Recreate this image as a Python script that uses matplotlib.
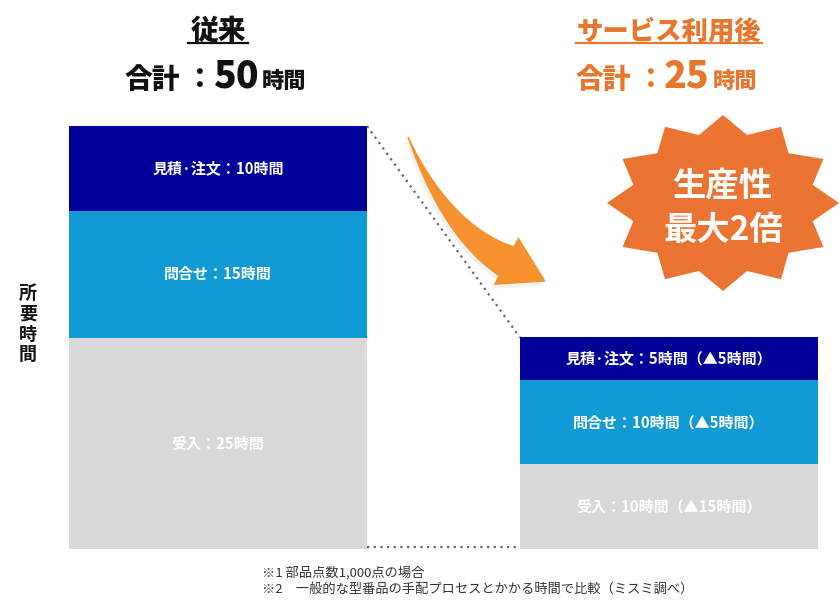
import numpy as np
import matplotlib
matplotlib.use("Agg")
from matplotlib import pyplot as plt
from matplotlib.patches import Polygon

plt.rcParams['font.family'] = ['Noto Sans CJK JP', 'DejaVu Sans']

# data
groups = ["従来", "サービス利用後"]
totals = [50, 25]
steps = ["受入", "問合せ", "見積·注文"]          # bottom -> top
hours_before = [25, 15, 10]
hours_after = [10, 10, 5]
saved = [15, 5, 5]
seg_colors = ["#D9D9D9", "#129AD4", "#000099"]

labels_before = [f"{s}：{h}時間" for s, h in zip(steps, hours_before)]
labels_after = [f"{s}：{h}時間（▲{d}時間）" for s, h, d in zip(steps, hours_after, saved)]

W, H = 840, 603
fig = plt.figure(figsize=(W / 100, H / 100), dpi=100)

# ---- bars ----
bar_w = 298 / 451
ax = fig.add_axes([69 / W, (H - 549) / H, 749 / W, 423 / H])
ax.set_xlim(-bar_w / 2, 1 + bar_w / 2)
ax.set_ylim(0, 50)
ax.axis("off")

bottom_b = 0
bottom_a = 0
for i in range(len(steps)):
    ax.bar(0, hours_before[i], bar_w, bottom=bottom_b, color=seg_colors[i])
    ax.bar(1, hours_after[i], bar_w, bottom=bottom_a, color=seg_colors[i])
    ax.text(0, bottom_b + hours_before[i] / 2, labels_before[i], color="white",
            fontsize=10.8, fontweight="bold", ha="center", va="center")
    ax.text(1, bottom_a + hours_after[i] / 2, labels_after[i], color="white",
            fontsize=10.8, fontweight="bold", ha="center", va="center")
    bottom_b += hours_before[i]
    bottom_a += hours_after[i]

# dotted connectors
ax.plot([bar_w / 2, 1 - bar_w / 2], [totals[0], totals[1]], ls=(0, (1, 2)),
        color="#666666", lw=1.6, clip_on=False)
ax.plot([bar_w / 2, 1 - bar_w / 2], [0.2, 0.2], ls=(0, (1, 2)),
        color="#666666", lw=1.6, clip_on=False)

# ---- overlay in pixel coords ----
ov = fig.add_axes([0, 0, 1, 1])
ov.set_xlim(0, W)
ov.set_ylim(H, 0)
ov.axis("off")
ov.patch.set_alpha(0)

black = "#111111"
orange = "#E8772E"

# titles
ov.text(218, 31, groups[0], fontsize=20, fontweight="heavy", color=black,
        ha="center", va="center")
ov.plot([188, 248], [43, 43], color=black, lw=1.6)
ov.text(669, 31, groups[1], fontsize=19, fontweight="heavy", color=orange,
        ha="center", va="center")
ov.plot([576, 762], [43, 43], color=orange, lw=1.6)

def total_line(x0, total, col):
    base = 88
    ov.text(x0, base, "合計", fontsize=20, fontweight="heavy", color=col,
            ha="left", va="baseline")
    ov.text(x0 + 74, base, "：", fontsize=20, fontweight="heavy", color=col,
            ha="center", va="baseline")
    ov.text(x0 + 88, base, str(total), fontsize=27, fontweight="heavy", color=col,
            ha="left", va="baseline")
    ov.text(x0 + 137, base, "時間", fontsize=16, fontweight="heavy", color=col,
            ha="left", va="baseline")

total_line(125, totals[0], black)
total_line(576, totals[1], orange)

# y label
ov.text(28, 324, "所\n要\n時\n間", fontsize=13, fontweight="bold", color=black,
        ha="center", va="center", linespacing=1.1)

# curved arrow
P0 = np.array([408, 137.0])
P1 = np.array([446, 230.0])
P2 = np.array([506, 261.0])
t = np.linspace(0, 1, 50)[:, None]
B = (1 - t) ** 2 * P0 + 2 * (1 - t) * t * P1 + t ** 2 * P2
D = 2 * (1 - t) * (P1 - P0) + 2 * t * (P2 - P1)
D = D / np.linalg.norm(D, axis=1)[:, None]
N = np.column_stack([-D[:, 1], D[:, 0]])
hw = (0.8 + 16 * t[:, 0] ** 1.2)[:, None]
left = B + N * hw
right = B - N * hw
d_end = D[-1]
n_end = N[-1]
head = [P2 + n_end * 27, P2 + d_end * 45, P2 - n_end * 27]
arrow_pts = np.vstack([left, head, right[::-1]])
ov.add_patch(Polygon(arrow_pts + np.array([-2, 4]), closed=True,
                     facecolor="#cccccc", edgecolor="none", alpha=0.25))
ov.add_patch(Polygon(arrow_pts, closed=True, facecolor="#F5922F", edgecolor="none"))

# starburst
cx, cy, rx, ry = 723, 203, 116, 88
ang = np.deg2rad(90 + np.arange(24) * 15)
rr = np.where(np.arange(24) % 2 == 0, 1.0, 0.8)
star = np.column_stack([cx + rx * rr * np.cos(ang), cy - ry * rr * np.sin(ang)])
ov.add_patch(Polygon(star, closed=True, facecolor="#EC7433", edgecolor="none"))
ov.text(cx, 187, "生産性", fontsize=24, fontweight="bold", color="white",
        ha="center", va="center")
ov.text(cx, 230, "最大2倍", fontsize=24, fontweight="bold", color="white",
        ha="center", va="center")

# footnotes
ov.text(262, 573, "※1 部品点数1,000点の場合", fontsize=9.5, color="#333333",
        ha="left", va="center")
ov.text(262, 589, "※2　一般的な型番品の手配プロセスとかかる時間で比較（ミスミ調べ）",
        fontsize=9.5, color="#333333", ha="left", va="center")

fig.savefig("out.png", dpi=100)
